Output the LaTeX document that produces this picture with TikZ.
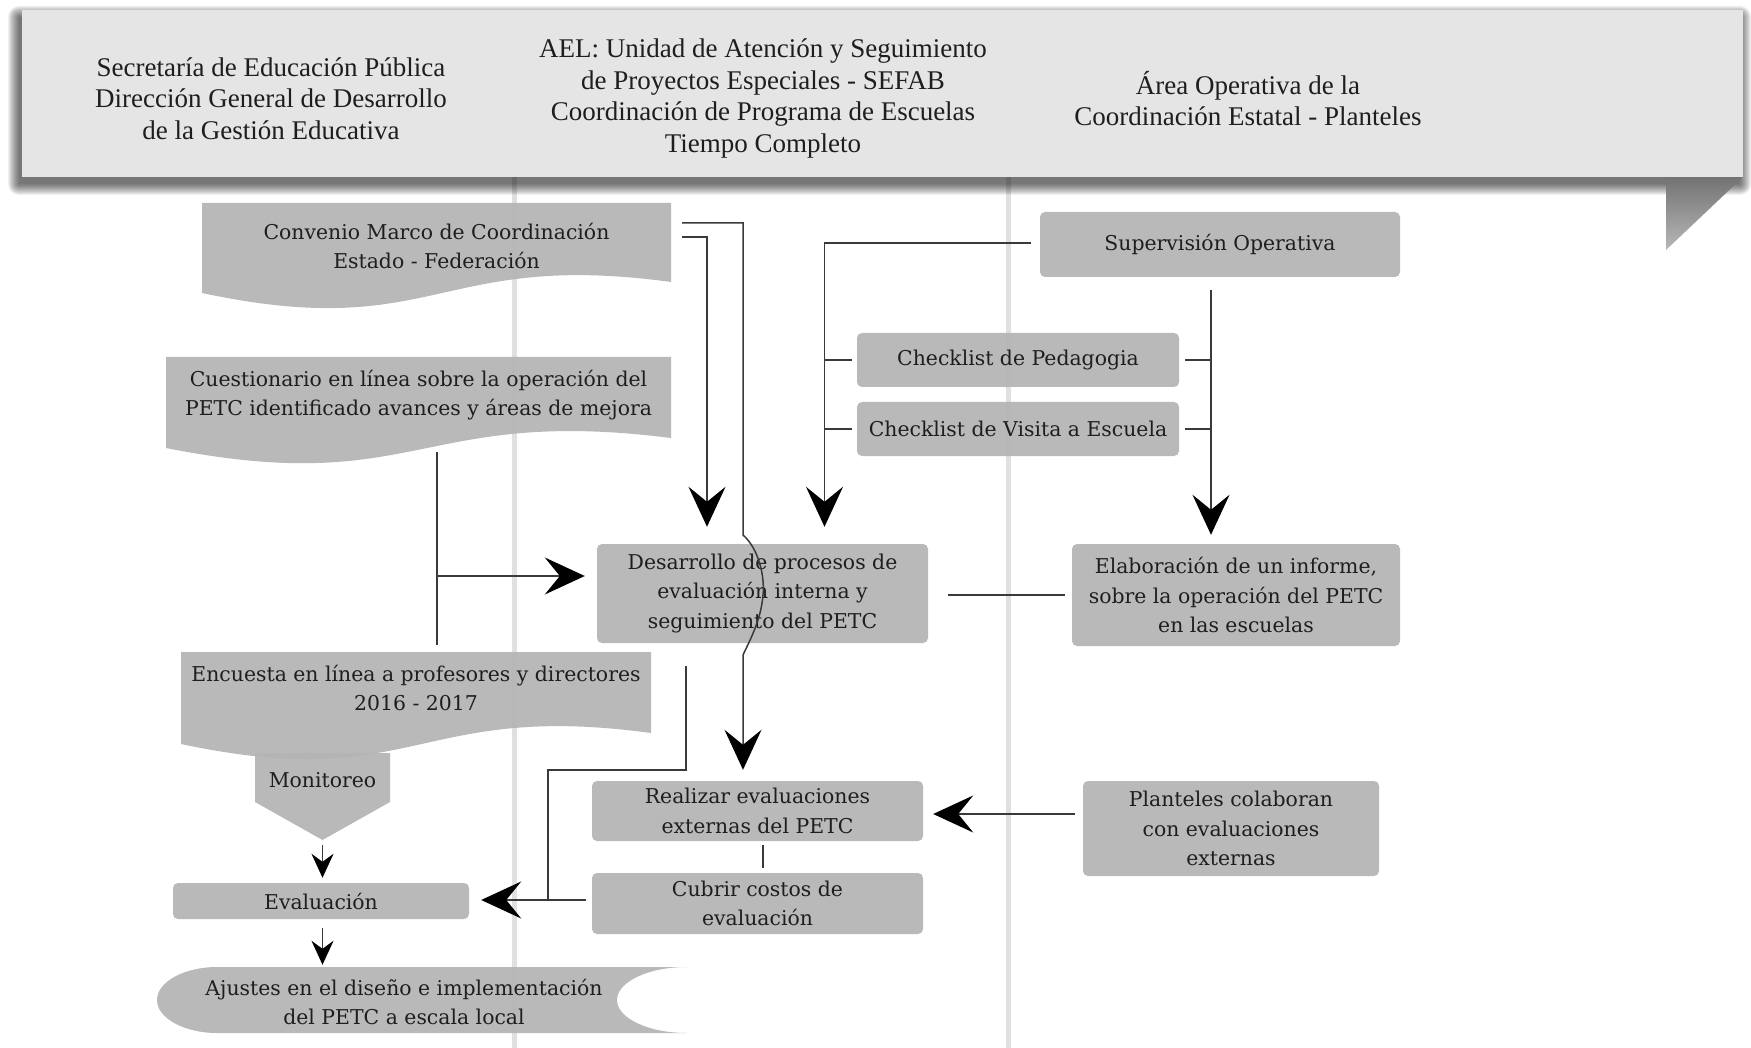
\documentclass[tikz,border=0pt]{standalone}
\usepackage{fontspec}
\newfontfamily\bodyf{DejaVu Serif}
\newfontfamily\headf{Liberation Serif}
\usetikzlibrary{arrows.meta,calc}
\definecolor{boxgray}{HTML}{B4B4B4}
\definecolor{bannergray}{HTML}{E5E5E5}
\definecolor{lanegray}{HTML}{E0E0E0}
\definecolor{linec}{HTML}{3A3A3A}
\definecolor{txt}{HTML}{1E1E1E}
\newcommand\mydocshape[5]{\fill[fillshape] (#1,#2) -- (#3,#2) -- (#3,#4) .. controls ({(#1+#3)/2},{#4-32}) and ({(#1+#3)/2},{#5+50}) .. (#1,#5) -- cycle;}
\begin{document}
\begin{tikzpicture}[x=1pt,y=-1pt,
  lane/.style={line width=5pt, draw=lanegray},
  fillshape/.style={fill=boxgray, fill opacity=0.93},
  box/.style={rectangle, rounded corners=5pt, fill=boxgray, fill opacity=0.93, text opacity=1, text=txt, font=\bodyf\fontsize{20.4}{29.5}\selectfont, align=center, inner sep=0pt},
  lbl/.style={rectangle, text=txt, font=\bodyf\fontsize{20.4}{29.5}\selectfont, align=center, inner sep=0pt},
  head/.style={text=txt, font=\headf\fontsize{27}{31.5}\selectfont, align=center, inner sep=0pt},
  conn/.style={draw=linec, line width=1.5pt},
  bigarrow/.style={conn, -{Stealth[length=40pt,width=37pt,inset=15pt,color=black,fill=black]}},
  smallarrow/.style={conn, -{Stealth[length=24pt,width=22pt,inset=8pt,color=black,fill=black]}}
]
\useasboundingbox (0,0) rectangle (1751,1048);
\fill[white] (0,0) rectangle (1751,1048);
% lanes
\draw[lane] (514,177) -- (514,1048);
\draw[lane] (1008,177) -- (1008,1048);
% banner shadow
\foreach \r in {0,...,11} {
  \fill[black, opacity=0.06, rounded corners=\r pt] ({22-3-\r},{10+7-\r}) rectangle ({1743-3+\r},{177+7+\r});
}
% ribbon fold
\shade[top color=black!55, bottom color=black!28] (1666,177) -- (1743,177) -- (1666,250) -- cycle;
% banner
\fill[bannergray] (22,10) rectangle (1743,177);
\node[head] (h1) at (271,98.5) {Secretaría de Educación Pública\\Dirección General de Desarrollo\\de la Gestión Educativa};
\node[head] (h2) at (763,98.5) {AEL: Unidad de Atención y Seguimiento\\de Proyectos Especiales - SEFAB\\Coordinación de Programa de Escuelas\\Tiempo Completo};
\node[head] (h3) at (1248,98.5) {Área Operativa de la\\Coordinación Estatal - Planteles};
% document shapes
\mydocshape{202}{203}{671}{282}{293}
\mydocshape{166}{357}{671}{438}{448}
\mydocshape{181}{652}{651}{733}{744}
% Monitoreo
\fill[fillshape] (255,753) -- (390,753) -- (390,802) -- (322.5,840) -- (255,802) -- cycle;
% Ajustes
\fill[fillshape] (217,967) -- (687,967) .. controls (648,967) and (617,982) .. (617,1000) .. controls (617,1018) and (648,1033) .. (687,1033) -- (217,1033) .. controls (184,1033) and (157,1018) .. (157,1000) .. controls (157,982) and (184,967) .. (217,967) -- cycle;
% text of shapes
\node[lbl, minimum width=469pt, minimum height=86pt] (conv) at (436.5,246) {Convenio Marco de Coordinación\\Estado - Federación};
\node[lbl, minimum width=505pt, minimum height=76pt] (cuest) at (418.5,395) {Cuestionario en línea sobre la operación del\\PETC identificado avances y áreas de mejora};
\node[lbl, minimum width=470pt, minimum height=72pt] (encu) at (416,688) {Encuesta en línea a profesores y directores\\2016 - 2017};
\node[lbl] (mon) at (322.5,780) {Monitoreo};
\node[lbl, minimum width=530pt, minimum height=66pt] (aju) at (404,1002) {Ajustes en el diseño e implementación\\del PETC a escala local};
% boxes
\node[box, minimum width=331pt, minimum height=99pt] (des) at (762.5,593.5) {Desarrollo de procesos de\\evaluación interna y\\seguimiento del PETC};
\node[box, minimum width=328pt, minimum height=102pt] (elab) at (1236,595) {Elaboración de un informe,\\sobre la operación del PETC\\en las escuelas};
\node[box, minimum width=360pt, minimum height=65pt] (sup) at (1220,244.5) {Supervisión Operativa};
\node[box, minimum width=322pt, minimum height=54pt] (cp) at (1018,360) {Checklist de Pedagogia};
\node[box, minimum width=322pt, minimum height=54pt] (cv) at (1018,429) {Checklist de Visita a Escuela};
\node[box, minimum width=331pt, minimum height=60pt] (real) at (757.5,811) {Realizar evaluaciones\\externas del PETC};
\node[box, minimum width=331pt, minimum height=61pt] (cub) at (757.5,903.5) {Cubrir costos de\\evaluación};
\node[box, minimum width=296pt, minimum height=95pt] (plan) at (1231,828.5) {Planteles colaboran\\con evaluaciones\\externas};
\node[box, minimum width=296pt, minimum height=36pt] (eva) at (321,901) {Evaluación};
% connectors
\coordinate (k1) at (743,535);
\coordinate (k2) at (743,655);
\coordinate (qv) at (437,576);
\coordinate (ec) at (548,770);
\coordinate (ej) at (548,900);
\draw[bigarrow] ($(conv.east)+(11,-9)$) -| ($(des.north)+(-55.5,-17)$);
\draw[bigarrow] ($(conv.east)+(11,-23)$) -| (k1) .. controls (758,548) and (765,575) .. (763,595) .. controls (761,620) and (750,640) .. (k2) -- ($(real.north)+(-14.5,-11)$);
\draw[bigarrow] ($(sup.west)+(-9,-1.5)$) -| ($(des.north)+(62,-17)$);
\draw[conn] ($(cp.west)+(-5,0)$) -- ($(cp.west)+(-32.5,0)$);
\draw[conn] ($(cv.west)+(-5,0)$) -- ($(cv.west)+(-32.5,0)$);
\draw[conn] ($(cp.east)+(6,0)$) -- ($(cp.east)+(32,0)$);
\draw[conn] ($(cv.east)+(6,0)$) -- ($(cv.east)+(32,0)$);
\draw[bigarrow] ($(sup.south)+(-9,13)$) -- ($(elab.north)+(-25,-9)$);
\draw[conn] ($(cuest.south)+(18.5,19)$) -- ($(encu.north)+(21,-7)$);
\draw[bigarrow] (qv) -- ($(des.west)+(-12,-17.5)$);
\draw[conn] ($(des.east)+(20,1.5)$) -- ($(elab.west)+(-7,0)$);
\draw[conn] ($(encu.east)+(35,-22)$) |- (ec) -- (ej);
\draw[bigarrow] ($(cub.west)+(-6,-3.5)$) -- ($(eva.east)+(12,-1)$);
\draw[conn] ($(real.south)+(5.5,4)$) -- ($(cub.north)+(5.5,-5)$);
\draw[bigarrow] ($(plan.west)+(-8,-14.5)$) -- ($(real.east)+(10,3)$);
\draw[smallarrow] ($(mon)+(0,65)$) -- ($(eva.north)+(1.5,-5)$);
\draw[smallarrow] ($(eva.south)+(1.5,9)$) -- ($(aju.north -| eva.south)+(1.5,-4)$);
\end{tikzpicture}
\end{document}
